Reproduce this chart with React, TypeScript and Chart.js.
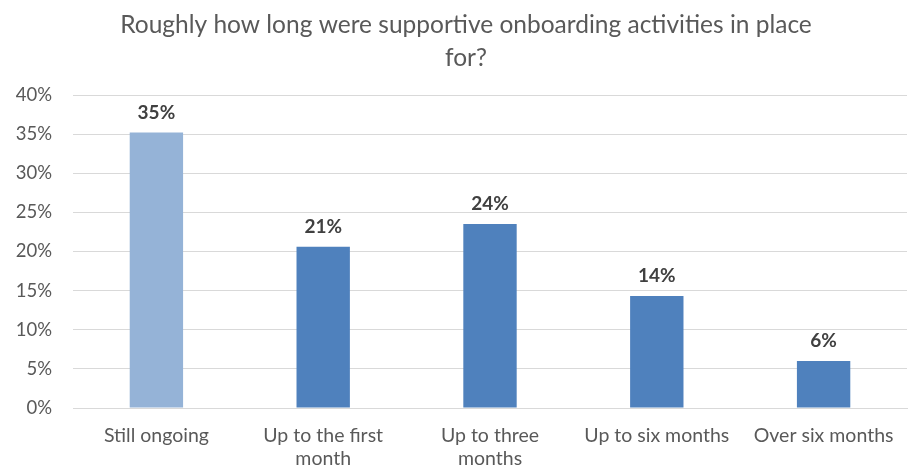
import React, { useEffect, useRef } from "react";
import { Chart, registerables } from "chart.js";

Chart.register(...registerables);

const TITLE_LINES = ["Roughly how long were supportive onboarding activities in place", "for?"];
const CATEGORIES: string[][] = [
  ["Still ongoing"],
  ["Up to the first", "month"],
  ["Up to three", "months"],
  ["Up to six months"],
  ["Over six months"],
];
const VALUES = [35.2, 20.6, 23.5, 14.3, 6.0];
const VALUE_LABELS = ["35%", "21%", "24%", "14%", "6%"];
const BAR_COLORS = ["#95B3D7", "#4F81BD", "#4F81BD", "#4F81BD", "#4F81BD"];
const Y_MAX = 40;
const Y_STEP = 5;

const FONT = "Lato, 'Open Sans', sans-serif";

const titlePlugin = {
  id: "customTitle",
  afterDraw(chart: any) {
    const ctx = chart.ctx;
    ctx.save();
    ctx.font = `24.5px ${FONT}`;
    ctx.fillStyle = "#595959";
    ctx.textAlign = "center";
    ctx.textBaseline = "middle";
    TITLE_LINES.forEach((line, i) => {
      ctx.fillText(line, 466, 25 + i * 33);
    });
    ctx.restore();
  },
};

const valueLabelPlugin = {
  id: "valueLabels",
  afterDatasetsDraw(chart: any) {
    const ctx = chart.ctx;
    const meta = chart.getDatasetMeta(0);
    ctx.save();
    ctx.font = `bold 19px ${FONT}`;
    ctx.fillStyle = "#404040";
    ctx.textAlign = "center";
    ctx.textBaseline = "middle";
    meta.data.forEach((bar: any, i: number) => {
      ctx.fillText(VALUE_LABELS[i], bar.x, bar.y - 20);
    });
    ctx.restore();
  },
};

export default function App() {
  const ref = useRef<HTMLCanvasElement>(null);
  useEffect(() => {
    document.body.style.margin = "0";
    const chart = new Chart(ref.current!, {
      type: "bar",
      data: {
        labels: CATEGORIES,
        datasets: [
          {
            data: VALUES,
            backgroundColor: BAR_COLORS,
            categoryPercentage: 1,
            barPercentage: 0.32,
          },
        ],
      },
      options: {
        animation: false,
        responsive: false,
        maintainAspectRatio: false,
        layout: { padding: { left: 0, right: 4, top: 95, bottom: 0 } },
        plugins: {
          legend: { display: false },
          tooltip: { enabled: false },
          title: { display: false },
        },
        scales: {
          x: {
            grid: { display: false, drawTicks: false },
            border: { display: true, color: "#D9D9D9" },
            ticks: {
              color: "#595959",
              font: { family: FONT, size: 19.5, lineHeight: 1.18 },
              padding: 16,
              maxRotation: 0,
              autoSkip: false,
            },
            afterFit: (s: any) => {
              s.height = 62;
            },
          },
          y: {
            min: 0,
            max: Y_MAX,
            grid: { color: "#D9D9D9", drawTicks: false },
            border: { display: false },
            ticks: {
              stepSize: Y_STEP,
              color: "#595959",
              font: { family: FONT, size: 18.5 },
              padding: 21,
              callback: (v: any) => `${v}%`,
            },
            afterFit: (s: any) => {
              s.width = 73;
            },
          },
        },
      },
      plugins: [valueLabelPlugin, titlePlugin],
    });
    return () => chart.destroy();
  }, []);
  return (
    <div style={{ position: "absolute", left: 0, top: 0, width: 911, height: 470, background: "#fff" }}>
      <canvas ref={ref} width={911} height={470} />
    </div>
  );
}
